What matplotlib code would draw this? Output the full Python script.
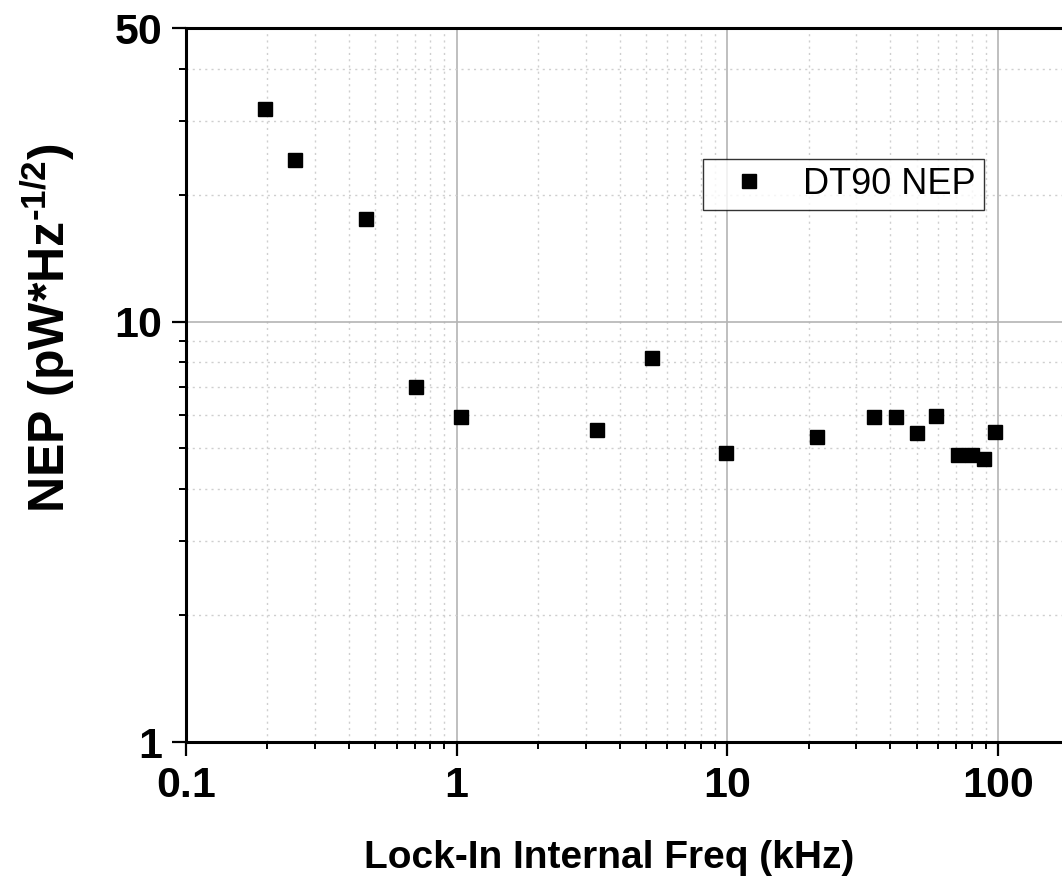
import matplotlib
matplotlib.use("Agg")
import matplotlib.pyplot as plt
from matplotlib.ticker import FixedLocator, LogLocator, NullFormatter, FixedFormatter

plt.rcParams['font.family'] = ['Liberation Sans', 'DejaVu Sans']
plt.rcParams['mathtext.fontset'] = 'custom'
plt.rcParams['mathtext.rm'] = 'Liberation Sans'
plt.rcParams['mathtext.bf'] = 'Liberation Sans:bold'

# lock-in internal frequency (kHz) and NEP (pW/sqrt(Hz))
freq_khz = [0.196, 0.253, 0.462, 0.706, 1.035, 3.29, 5.29, 9.92, 21.5,
            34.9, 42.0, 50.3, 59.2, 71.2, 80.2, 88.8, 97.5]
nep = [32.0, 24.3, 17.6, 7.0, 5.94, 5.53, 8.21, 4.88, 5.32,
       5.94, 5.94, 5.45, 5.97, 4.82, 4.82, 4.72, 5.47]

x_ticks = [0.1, 1, 10, 100]
x_tick_labels = ["0.1", "1", "10", "100"]
y_ticks = [1, 10, 50]
y_tick_labels = ["1", "10", "50"]

W, H = 1062, 883
fig = plt.figure(figsize=(W / 100, H / 100), dpi=100)
# axes runs a little past the right edge of the image, as in the original
ax = fig.add_axes([186 / W, 1 - 742 / H, 893.5 / W, 714 / H])

ax.set_xscale("log")
ax.set_yscale("log")
ax.set_xlim(0.1, 200)
ax.set_ylim(1, 50)

ax.plot(freq_khz, nep, linestyle="none", marker="s", markersize=10.5,
        color="black", label="DT90 NEP", zorder=3)

ax.xaxis.set_major_locator(FixedLocator(x_ticks))
ax.xaxis.set_major_formatter(FixedFormatter(x_tick_labels))
ax.xaxis.set_minor_locator(LogLocator(base=10, subs=range(2, 10)))
ax.xaxis.set_minor_formatter(NullFormatter())
ax.yaxis.set_major_locator(FixedLocator(y_ticks))
ax.yaxis.set_major_formatter(FixedFormatter(y_tick_labels))
ax.yaxis.set_minor_locator(FixedLocator([2, 3, 4, 5, 6, 7, 8, 9, 20, 30, 40]))
ax.yaxis.set_minor_formatter(NullFormatter())

ax.grid(which="major", color="#b4b4b4", linewidth=1.2, linestyle="-")
ax.grid(which="minor", color="#cfcfcf", linewidth=1.0, linestyle=(0, (1.5, 3)))
ax.set_axisbelow(True)

for s in ax.spines.values():
    s.set_linewidth(2.2)
    s.set_color("black")

ax.tick_params(which="major", direction="out", length=10, width=1.6,
               labelsize=31, pad=7)
ax.tick_params(which="minor", direction="out", length=5, width=1.4)
for lbl in ax.get_xticklabels() + ax.get_yticklabels():
    lbl.set_fontweight("bold")

ax.set_xlabel("Lock-In Internal Freq (kHz)", fontsize=28, fontweight="bold")
ax.xaxis.label.set_va("baseline")
ax.xaxis.set_label_coords(0.473, -0.1765)
ax.set_ylabel("NEP (pW*Hz$^{\\mathregular{\u20101/2}}$)", fontsize=36,
              fontweight="bold")
ax.yaxis.label.set_va("baseline")
ax.yaxis.set_label_coords(-0.1354, 0.580)

leg = ax.legend(loc="upper left", bbox_to_anchor=(703 / W, 1 - 159 / H),
                bbox_transform=fig.transFigure, fontsize=26, frameon=True,
                fancybox=False, edgecolor="black", borderpad=0.22,
                handlelength=2.1, handletextpad=0.45, borderaxespad=0,
                markerscale=1.0)
leg.get_frame().set_linewidth(1.0)

fig.savefig("out.png", dpi=100)
